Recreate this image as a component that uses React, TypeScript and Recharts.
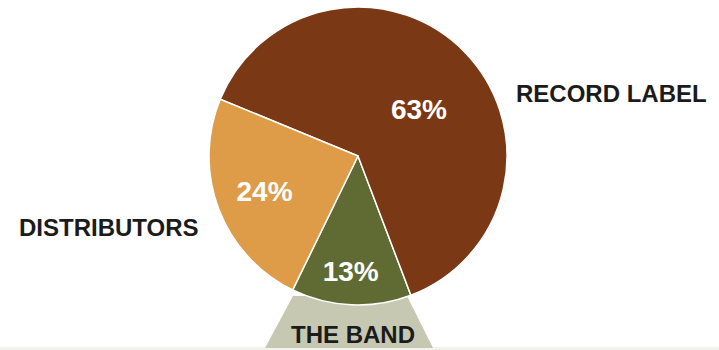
import React from "react";
import { PieChart, Pie, Cell } from "recharts";

const categories = ["THE BAND", "RECORD LABEL", "DISTRIBUTORS"];
const shares = [13, 63, 24];
const sliceColors = ["#5F6B33", "#7A3815", "#DE9B48"];
// percent label placement (radius from centre, angle offset from slice middle)
const pctRadius = [116, 77, 100];
const pctAngleOffset = [-1, -6.6, 0];
// category name placement
const nameX = [291, 516, 19];
const nameY = [334, 93, 227];

const data = categories.map((name, i) => ({ name, value: shares[i] }));

const W = 719;
const H = 350;
const CX = 358;
const CY = 156;
const R = 149;
const RAD = Math.PI / 180;
const FONT = "'Liberation Sans', Arial, Helvetica, sans-serif";

const renderPct = (props: any) => {
  const { midAngle, index, cx, cy } = props;
  const a = (midAngle + pctAngleOffset[index]) * RAD;
  const r = pctRadius[index];
  const x = cx + r * Math.cos(a);
  const y = cy - r * Math.sin(a);
  return (
    <text
      key={"pct" + index}
      x={x}
      y={y}
      fill="#ffffff"
      textAnchor="middle"
      dominantBaseline="central"
      fontFamily={FONT}
      fontWeight="bold"
      fontSize={28}
    >
      {shares[index] + "%"}
    </text>
  );
};

export default function App() {
  return (
    <div style={{ position: "absolute", left: 0, top: 0, width: W, height: H, background: "#ffffff" }}>
      <svg width={W} height={H} style={{ position: "absolute", left: 0, top: 0 }}>
        <rect x={0} y={347} width={W} height={3} fill="#F2F3EC" />
        <polygon points="293,296 407,296 433,348 265,348" fill="#C6C8B2" />
      </svg>
      <div style={{ position: "absolute", left: 0, top: 0 }}>
        <PieChart width={W} height={H} margin={{ top: 0, right: 0, bottom: 0, left: 0 }}>
          <Pie
            data={data}
            dataKey="value"
            nameKey="name"
            cx={CX}
            cy={CY}
            outerRadius={R}
            startAngle={244}
            endAngle={604}
            stroke="#ffffff"
            strokeWidth={1.5}
            label={renderPct}
            labelLine={false}
            isAnimationActive={false}
          >
            {data.map((d, i) => (
              <Cell key={d.name} fill={sliceColors[i]} />
            ))}
          </Pie>
        </PieChart>
      </div>
      <svg width={W} height={H} style={{ position: "absolute", left: 0, top: 0, pointerEvents: "none" }}>
        {categories.map((c, i) => (
          <text
            key={c}
            x={nameX[i]}
            y={nameY[i]}
            fill="#1b1b1b"
            dominantBaseline="central"
            fontFamily={FONT}
            fontWeight="bold"
            fontSize={24}
          >
            {c}
          </text>
        ))}
      </svg>
    </div>
  );
}
